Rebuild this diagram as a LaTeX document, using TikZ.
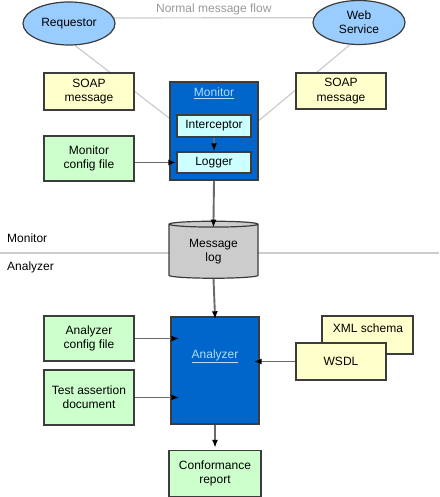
\documentclass[tikz,border=0pt]{standalone}
\usepackage{fontspec}
\setmainfont{Liberation Sans}
\usetikzlibrary{arrows.meta,shapes.geometric,backgrounds}
\definecolor{edge}{HTML}{3c3c3c}
\definecolor{wire}{HTML}{6a6a6a}
\definecolor{faint}{HTML}{cccccc}
\definecolor{peer}{HTML}{99ccff}
\definecolor{note}{HTML}{ffffcc}
\definecolor{cfg}{HTML}{ccffcc}
\definecolor{tool}{HTML}{0066cc}
\definecolor{part}{HTML}{ccffff}
\definecolor{link}{HTML}{b0dcff}

\begin{document}
\begin{tikzpicture}[x=1pt,y=-1pt,
  every node/.style={font=\fontsize{12}{14.3}\selectfont,align=center,inner sep=0pt},
  box/.style={draw=edge,line width=1.4pt,minimum width=#1},
  box/.default=90pt,
  peer/.style={ellipse,draw=edge,line width=1.2pt,fill=peer,minimum width=92pt,minimum height=43pt},
  flow/.style={draw=wire,line width=1.9pt,-{Latex[black,length=8pt,width=6pt]}},
  hint/.style={draw=faint,line width=1.2pt}]
  \useasboundingbox (0,0) rectangle (439,497);

  % monitor side
  \node (req) at (69,23.5)[peer]{Requestor};
  \node (ws) at (359,22.5)[peer,minimum height=44pt]{Web\\Service};
  \node (soapl) at (89,91.5)[box,fill=note,minimum height=37pt]{SOAP\\message};
  \node (soapr) at (341,91)[box,fill=note,minimum height=36pt]{SOAP\\message};
  \node (mon) at (214,131)[box=88pt,fill=tool,minimum height=98pt]{};
  \node (monlbl) at (214,93)[text=link]{\underline{Monitor}};
  \node (icpt) at (214,126)[box=74pt,fill=part,minimum height=22pt]{Interceptor};
  \node (logger) at (214,162.5)[box=74pt,fill=part,minimum height=21pt]{Logger};
  \node (moncfg) at (89,158.5)[box,fill=cfg,minimum height=45pt]{Monitor\\config file};

  \node (log) at (213.5,251.5)[cylinder,shape border rotate=90,aspect=0.12,draw=edge,line width=1.2pt,
    fill=faint,minimum width=89pt,minimum height=57pt]{Message\\log};
  \node (sidemon) at (7,238)[anchor=west]{Monitor};
  \node (sideana) at (7,267)[anchor=west]{Analyzer};

  % analyzer side
  \node (ana) at (215,370.5)[box=88pt,fill=tool,minimum height=107pt]{};
  \node (analbl) at (215,356)[text=link]{\underline{Analyzer}};
  \node (anacfg) at (89,338.5)[box,fill=cfg,minimum height=45pt]{Analyzer\\config file};
  \node (tad) at (89,397.5)[box,fill=cfg,minimum height=55pt]{Test assertion\\document};
  \node (xsd) at (367.5,335)[box=91pt,fill=note,minimum height=38pt]{};
  \node (xsdlbl) at (368,328){XML schema};
  \node (wsdl) at (341,361.5)[box,fill=note,minimum height=37pt]{WSDL};
  \node (rep) at (215,473.5)[box=92pt,fill=cfg,minimum height=46pt]{Conformance\\report};

  \begin{scope}[on background layer]
    \draw[hint] (req.7) -- node[above=2pt,text=faint!75!black](flowlbl){Normal message flow} (ws.174);
    \draw[hint] (req.-75) -- (mon.164);
    \draw[hint] (ws.-112) -- (mon.13);
    \draw[hint] (0,253) -- (439,253);
  \end{scope}

  \draw[flow] (icpt) -- (logger);
  \draw[flow] (moncfg.east |- logger) -- (logger.west);
  \draw[flow,shorten >=-7pt] (mon.south) -- (log.top);
  \draw[flow,shorten >=-3pt] (log.bottom) -- (ana.north);
  \draw[flow,shorten >=-9pt] (anacfg.east) -- (anacfg.east -| ana.west);
  \draw[flow,shorten >=-9pt] (tad.east) -- (tad.east -| ana.west);
  \draw[flow,shorten >=-6pt] (wsdl.west) -- (wsdl.west -| ana.east);
  \draw[flow,shorten >=2pt] (ana.south) -- (rep.north);
\end{tikzpicture}
\end{document}
